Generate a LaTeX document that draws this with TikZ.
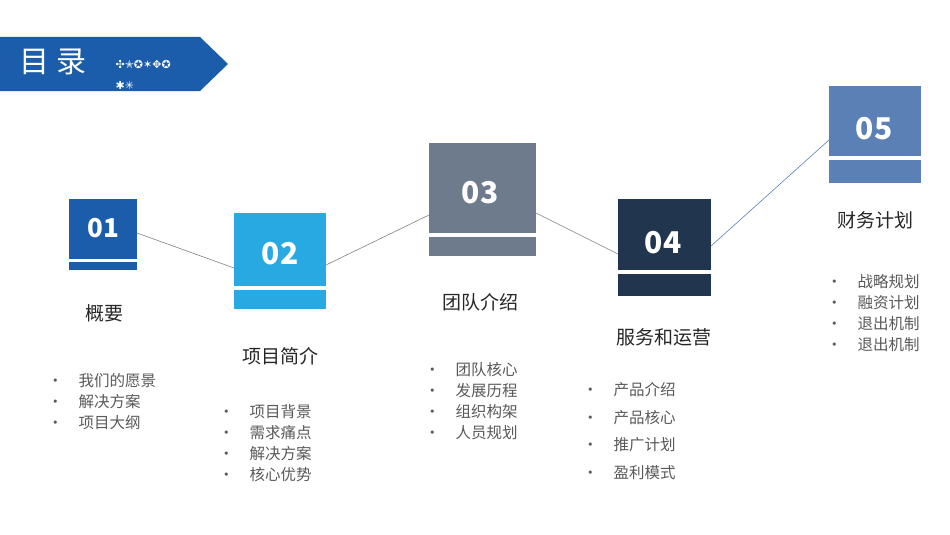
\documentclass[tikz,border=0pt]{standalone}
\usepackage{fontspec}
\setmainfont{Noto Sans CJK SC}
\newfontfamily\djv{DejaVu Sans}
\begin{document}
\begin{tikzpicture}[x=1pt,y=-1pt,
  lbl/.style={font=\fontsize{19}{22}\selectfont,text=black!85},
  itm/.style={font=\fontsize{15.5}{21}\selectfont,text=black!65,anchor=west,align=left},
  num/.style={font=\bfseries\fontsize{30}{32}\selectfont,text=white},
  conn/.style={draw=black!50,line width=0.6pt}]
\definecolor{cA}{HTML}{1B5DAA}\definecolor{cB}{HTML}{29A9E1}
\definecolor{cC}{HTML}{6E7B8C}\definecolor{cD}{HTML}{22354F}
\definecolor{cE}{HTML}{5A80B5}
\useasboundingbox (0,0) rectangle (950,535);
\fill[fill=cA] (0,37) -- (200,37) -- (228,64) -- (200,91) -- (0,91) -- cycle;
\node[text=white,font=\fontsize{30}{32}\selectfont,anchor=west] (t) at (16,62) {目 录};
\node[text=white,font=\djv\fontsize{11}{13}\selectfont,anchor=west] (s1) at (112,64) {✣✭✪✶✥✪};
\node[text=white,font=\djv\fontsize{11}{13}\selectfont,anchor=west] (s2) at (112,85) {✱✳};
% boxes
\fill[cA] (69,199) rectangle (137,259); \fill[cA] (69,262) rectangle (137,270);
\node[num,font=\bfseries\fontsize{26}{28}\selectfont] (n1) at (103,228) {01};
\fill[cB] (234,213) rectangle (326,286); \fill[cB] (234,290) rectangle (326,309);
\node[num] (n2) at (280,254) {02};
\fill[cC] (429,143) rectangle (536,233); \fill[cC] (429,237) rectangle (536,256);
\node[num] (n3) at (480,193) {03};
\fill[cD] (618,199) rectangle (711,270); \fill[cD] (618,274) rectangle (711,296);
\node[num] (n4) at (663,243) {04};
\fill[cE] (829,86) rectangle (921,156); \fill[cE] (829,160) rectangle (921,183);
\node[num] (n5) at (874,129) {05};
\coordinate (a1) at (137,233); \coordinate (b2) at (234,268);
\coordinate (a2) at (326,265); \coordinate (b3) at (429,215);
\coordinate (a3) at (536,213); \coordinate (b4) at (618,254);
\coordinate (a4) at (711,246); \coordinate (b5) at (829,140);
\draw[conn] (a1) -- (b2); \draw[conn] (a2) -- (b3); \draw[conn] (a3) -- (b4);
\draw[conn,draw=cE] (a4) -- (b5);
% labels
\node[lbl] (l1) at (104,313) {概要};
\node[lbl] (l2) at (280,356) {项目简介};
\node[lbl] (l3) at (480,302) {团队介绍};
\node[lbl] (l4) at (664,337) {服务和运营};
\node[lbl] (l5) at (875,220) {财务计划};
\node[itm] (i1) at (44,402) {•\quad 我们的愿景\\•\quad 解决方案\\•\quad 项目大纲};
\node[itm] (i2) at (215,443) {•\quad 项目背景\\•\quad 需求痛点\\•\quad 解决方案\\•\quad 核心优势};
\node[itm] (i3) at (421,401) {•\quad 团队核心\\•\quad 发展历程\\•\quad 组织构架\\•\quad 人员规划};
\node[itm,font=\fontsize{15.5}{27.5}\selectfont] (i4) at (579,431) {•\quad 产品介绍\\•\quad 产品核心\\•\quad 推广计划\\•\quad 盈利模式};
\node[itm] (i5) at (823,313) {•\quad 战略规划\\•\quad 融资计划\\•\quad 退出机制\\•\quad 退出机制};
\end{tikzpicture}
\end{document}
